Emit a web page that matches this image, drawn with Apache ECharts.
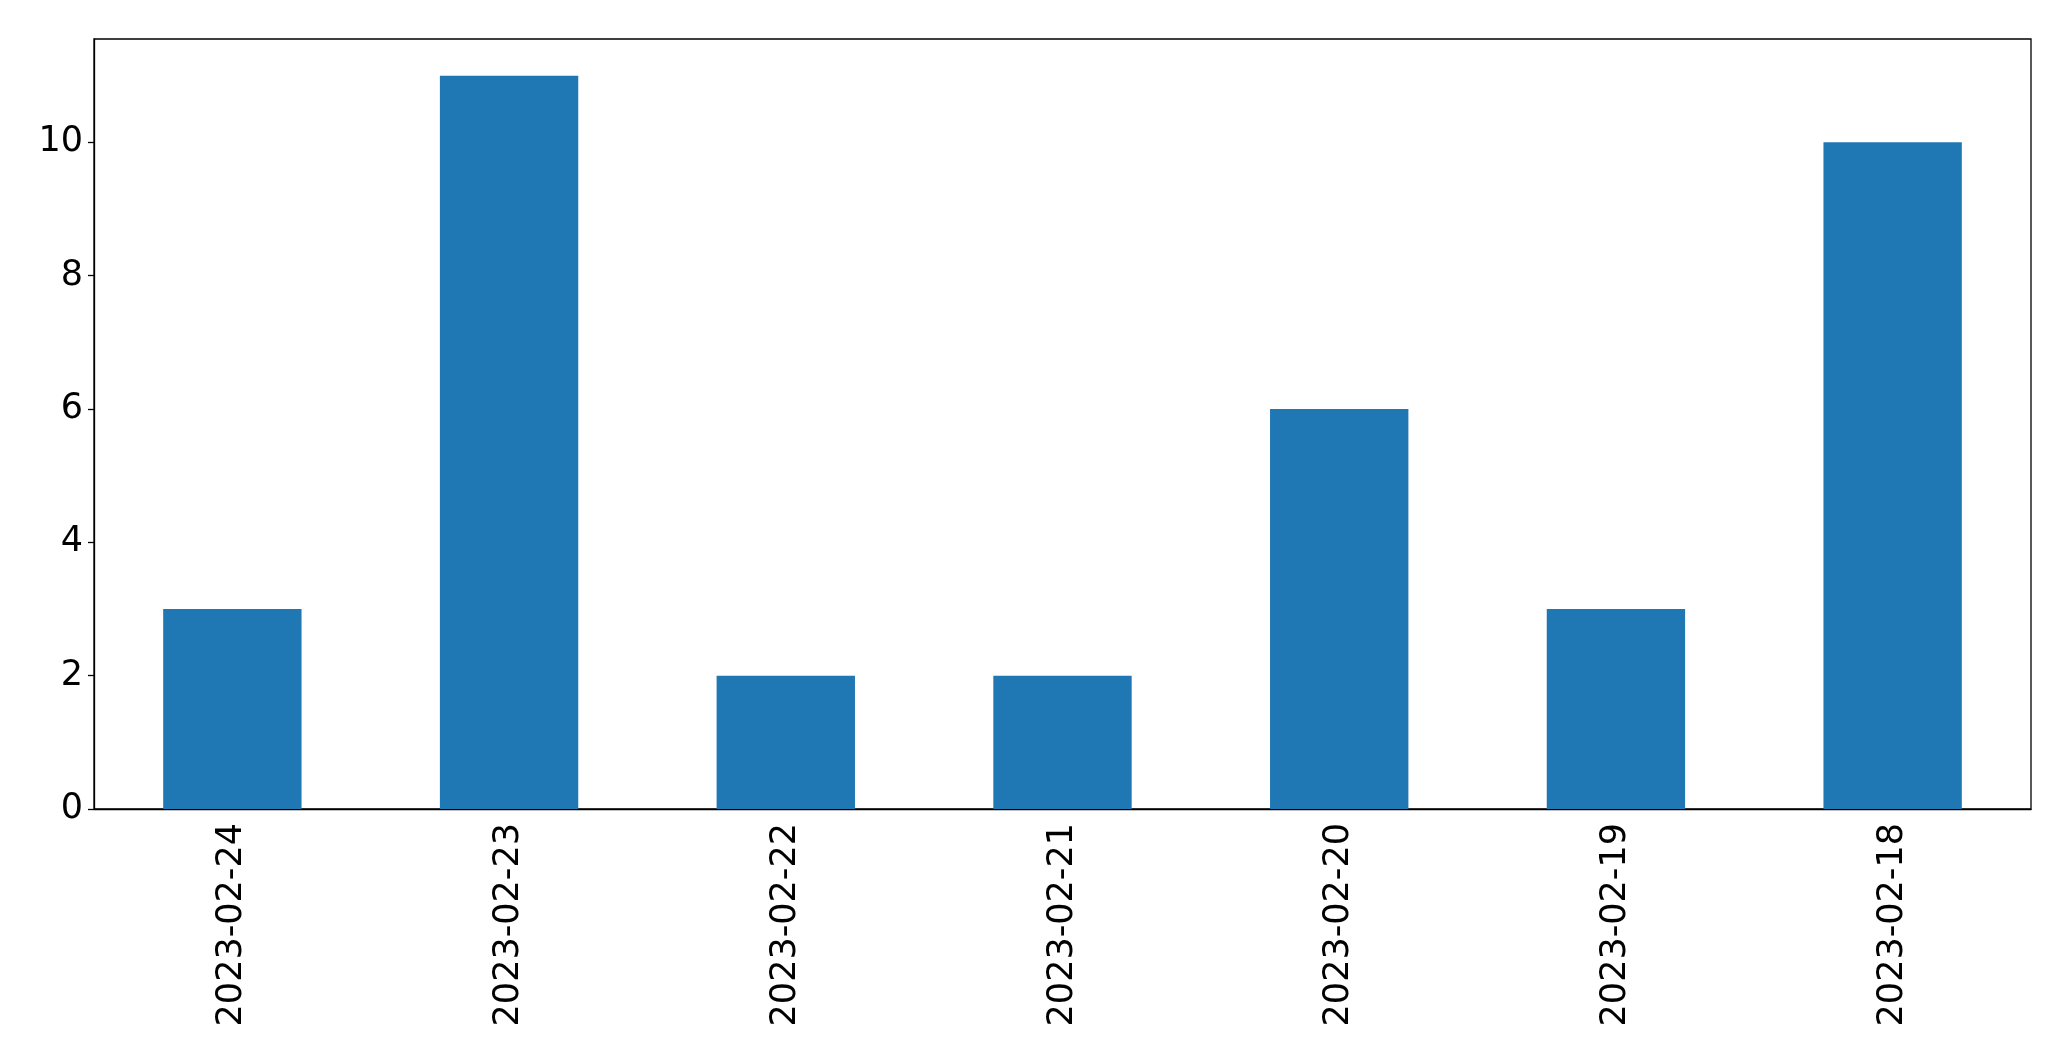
<!DOCTYPE html>
<html>
<head>
<meta charset="utf-8">
<script src="https://cdn.jsdelivr.net/npm/echarts@6/dist/echarts.min.js"></script>
<style>html,body{margin:0;padding:0;background:#fff;}#c{width:2071px;height:1061px;}</style>
</head>
<body>
<div id="c"></div>
<script>
const categories = ['2023-02-24','2023-02-23','2023-02-22','2023-02-21','2023-02-20','2023-02-19','2023-02-18'];
const values = [3, 11, 2, 2, 6, 3, 10];
const yTicks = [0, 2, 4, 6, 8, 10];

const chart = echarts.init(document.getElementById('c'), null, {renderer: 'canvas'});
const font = 'DejaVu Sans';
chart.setOption({
  animation: false,
  backgroundColor: '#ffffff',
  grid: {left: 94, top: 39, right: 40, bottom: 252, show: true, borderColor: '#000', borderWidth: 1.3, backgroundColor: 'transparent'},
  xAxis: {
    type: 'category',
    data: categories,
    axisLine: {lineStyle: {color: '#000', width: 1.3}},
    axisTick: {alignWithLabel: true, length: 6, lineStyle: {color: '#000', width: 1.3}},
    axisLabel: {rotate: 90, color: '#000', fontFamily: font, fontSize: 35, margin: 14, interval: 0},
    splitLine: {show: false}
  },
  yAxis: {
    type: 'value',
    min: 0,
    max: 11.55,
    interval: 2,
    axisLine: {show: true, lineStyle: {color: '#000', width: 1.3}},
    axisTick: {show: true, length: 6, lineStyle: {color: '#000', width: 1.3}},
    axisLabel: {color: '#000', fontFamily: font, fontSize: 35, margin: 11,
      formatter: v => yTicks.includes(v) ? String(v) : '', showMaxLabel: false},
    splitLine: {show: false}
  },
  series: [{
    type: 'bar',
    data: values,
    barWidth: '50%',
    itemStyle: {color: '#1f77b4'}
  }]
});
</script>
</body>
</html>
